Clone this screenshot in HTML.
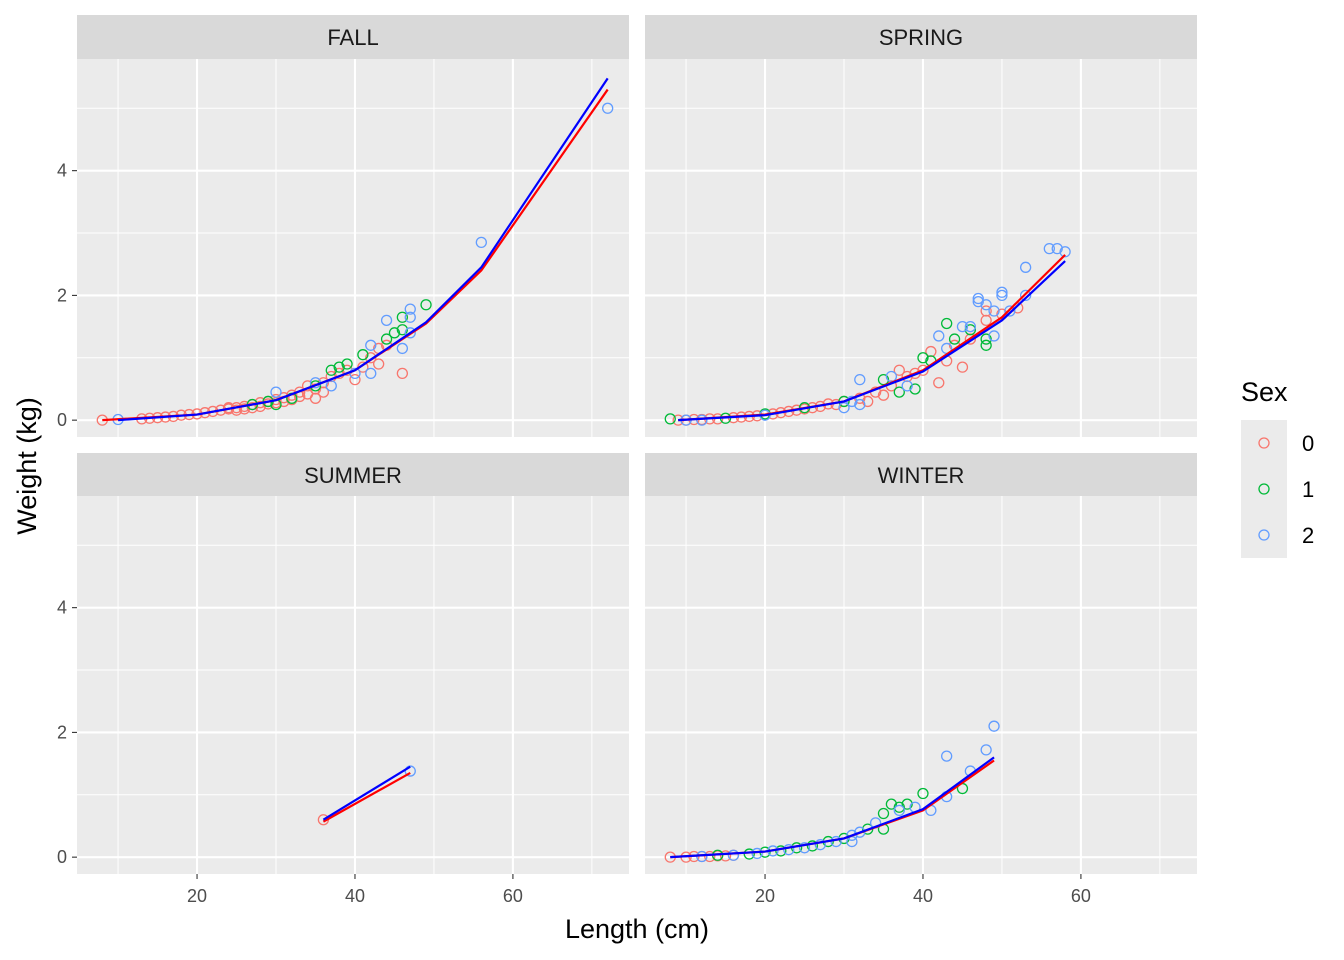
<!DOCTYPE html>
<html><head><meta charset="utf-8"><style>
body{margin:0;background:#fff;}
svg{display:block;font-family:"Liberation Sans",Arial,sans-serif;}
</style></head><body>
<svg id="chart" width="1344" height="960" xmlns="http://www.w3.org/2000/svg"></svg>
<script>
const panelNames = ["FALL","SPRING","SUMMER","WINTER"];
const xTicks = [20,40,60];
const yTicks = [0,2,4];
const sexLevels = ["0","1","2"];
const sexColors = ["#F8766D","#00BA38","#619CFF"];
const fallSex0 = [[8,0.0],[13,0.02],[14,0.03],[15,0.04],[16,0.05],[17,0.06],[18,0.08],[19,0.09],[20,0.1],[21,0.12],[22,0.14],[23,0.16],[24,0.18],[25,0.2],[26,0.22],[27,0.25],[28,0.28],[29,0.3],[30,0.33],[31,0.36],[32,0.4],[33,0.45],[34,0.55],[35,0.5],[35,0.35],[36,0.6],[37,0.7],[38,0.75],[39,0.8],[40,0.65],[41,0.85],[42,1.0],[43,0.9],[43,1.15],[46,0.75],[44,1.2],[24,0.2],[26,0.18],[28,0.22],[31,0.3],[33,0.38],[36,0.45],[25,0.16],[27,0.2],[29,0.26],[30,0.28],[32,0.33],[34,0.42]];
const fallSex1 = [[27,0.25],[30,0.25],[32,0.35],[37,0.8],[39,0.9],[41,1.05],[44,1.3],[45,1.4],[46,1.65],[49,1.85],[46,1.45],[38,0.85],[29,0.3],[35,0.55]];
const fallSex2 = [[10,0.01],[30,0.45],[35,0.6],[37,0.55],[40,0.75],[42,0.75],[42,1.2],[44,1.6],[46,1.15],[47,1.78],[47,1.65],[47,1.4],[56,2.85],[72,5.0]];
const springSex0 = [[9,0],[10,0],[12,0.01],[14,0.02],[16,0.04],[18,0.06],[20,0.09],[22,0.12],[24,0.16],[26,0.2],[28,0.26],[30,0.3],[32,0.35],[34,0.45],[36,0.55],[37,0.8],[38,0.7],[39,0.75],[40,0.8],[41,1.1],[42,0.6],[43,0.95],[44,1.2],[45,0.85],[46,1.3],[48,1.75],[48,1.6],[50,1.7],[52,1.8],[33,0.3],[27,0.22],[29,0.25],[35,0.4],[11,0.01],[13,0.02],[17,0.05],[19,0.07],[21,0.1],[23,0.14],[25,0.18]];
const springSex1 = [[8,0.02],[15,0.03],[20,0.1],[25,0.2],[30,0.3],[35,0.65],[37,0.45],[39,0.5],[40,1.0],[43,1.55],[44,1.3],[46,1.45],[48,1.2],[48,1.3],[41,0.95]];
const springSex2 = [[10,0],[12,0],[20,0.08],[30,0.2],[32,0.65],[36,0.7],[38,0.55],[42,1.35],[43,1.15],[45,1.5],[46,1.5],[47,1.9],[48,1.85],[49,1.35],[49,1.75],[50,2.05],[50,2.0],[51,1.75],[53,2.45],[53,2.0],[56,2.75],[57,2.75],[58,2.7],[47,1.95],[31,0.3],[32,0.25]];
const summerSex0 = [[36,0.6]];
const summerSex1 = [];
const summerSex2 = [[47,1.38]];
const winterSex0 = [[8,0],[10,0],[11,0.01],[12,0.01],[13,0.01],[14,0.02],[15,0.02],[16,0.03]];
const winterSex1 = [[14,0.03],[18,0.05],[20,0.08],[22,0.1],[24,0.15],[26,0.18],[28,0.25],[30,0.3],[33,0.45],[35,0.7],[35,0.45],[36,0.85],[37,0.8],[38,0.85],[40,1.02],[45,1.1]];
const winterSex2 = [[12,0.01],[16,0.03],[19,0.06],[21,0.1],[23,0.12],[25,0.15],[27,0.2],[29,0.25],[31,0.25],[31,0.35],[32,0.4],[34,0.55],[37,0.75],[39,0.8],[41,0.75],[43,1.62],[43,0.97],[46,1.38],[48,1.72],[49,2.1]];
const fallFitRed = [[8,0],[20,0.09],[30,0.32],[40,0.8],[49,1.55],[56,2.4],[72,5.3]];
const fallFitBlue = [[10,0],[20,0.09],[30,0.32],[40,0.8],[49,1.57],[56,2.45],[72,5.48]];
const springFitRed = [[9,0],[20,0.09],[30,0.3],[40,0.8],[50,1.65],[58,2.65]];
const springFitBlue = [[9,0],[20,0.08],[30,0.3],[40,0.78],[50,1.6],[58,2.55]];
const summerFitRed = [[36,0.57],[47,1.35]];
const summerFitBlue = [[36,0.6],[47,1.45]];
const winterFitRed = [[8,0],[20,0.09],[30,0.3],[40,0.75],[49,1.55]];
const winterFitBlue = [[8,0],[20,0.09],[30,0.3],[40,0.77],[49,1.6]];

const points = [[fallSex0,fallSex1,fallSex2],[springSex0,springSex1,springSex2],[summerSex0,summerSex1,summerSex2],[winterSex0,winterSex1,winterSex2]];
const fitsRed = [fallFitRed,springFitRed,summerFitRed,winterFitRed];
const fitsBlue = [fallFitBlue,springFitBlue,summerFitBlue,winterFitBlue];

const NS="http://www.w3.org/2000/svg";
const svg=document.getElementById('chart');
function mk(tag,attrs,parent){const e=document.createElementNS(NS,tag);for(const k in attrs)e.setAttribute(k,attrs[k]);(parent||svg).appendChild(e);return e;}
const panels=[{x0:77,x1:629,s0:15,y0:59,y1:437},{x0:645,x1:1197,s0:15,y0:59,y1:437},{x0:77,x1:629,s0:453,y0:496,y1:874},{x0:645,x1:1197,s0:453,y0:496,y1:874}];
const xMin=4.8,xMax=74.7,yMin=-0.27,yMax=5.79;
panels.forEach((p,i)=>{
  const sx=v=>p.x0+(v-xMin)/(xMax-xMin)*(p.x1-p.x0);
  const sy=v=>p.y1-(v-yMin)/(yMax-yMin)*(p.y1-p.y0);
  const g=mk('g',{});
  
  
  const strip=mk('rect',{x:p.x0,y:p.s0,width:p.x1-p.x0,height:p.y0-p.s0,fill:'#d9d9d9'},g);
  
  
  const st=mk('text',{x:(p.x0+p.x1)/2,y:p.s0+30,'text-anchor':'middle','font-size':'22',fill:'#1a1a1a'},g);
  st.textContent=panelNames[i];
  
  
  mk('rect',{x:p.x0,y:p.y0,width:p.x1-p.x0,height:p.y1-p.y0,fill:'#ebebeb'},g);
  [10,30,50,70].forEach(v=>mk('line',{x1:sx(v),x2:sx(v),y1:p.y0,y2:p.y1,stroke:'#fff','stroke-width':1},g));
  [1,3,5].forEach(v=>mk('line',{x1:p.x0,x2:p.x1,y1:sy(v),y2:sy(v),stroke:'#fff','stroke-width':1},g));
  xTicks.forEach(v=>mk('line',{x1:sx(v),x2:sx(v),y1:p.y0,y2:p.y1,stroke:'#fff','stroke-width':2.1},g));
  yTicks.forEach(v=>mk('line',{x1:p.x0,x2:p.x1,y1:sy(v),y2:sy(v),stroke:'#fff','stroke-width':2.1},g));
  if(i>=2){xTicks.forEach(v=>{
    mk('line',{x1:sx(v),x2:sx(v),y1:p.y1,y2:p.y1+5,stroke:'#333','stroke-width':1.1},g);
    const t=mk('text',{x:sx(v),y:p.y1+28,'text-anchor':'middle','font-size':'18',fill:'#4d4d4d'},g);
    t.textContent=v;
    
    
  });}
  if(i%2===0){yTicks.forEach(v=>{
    mk('line',{x1:p.x0-5,x2:p.x0,y1:sy(v),y2:sy(v),stroke:'#333','stroke-width':1.1},g);
    const t=mk('text',{x:p.x0-10,y:sy(v)+6,'text-anchor':'end','font-size':'18',fill:'#4d4d4d'},g);
    t.textContent=v;
    
    
  });}
  points[i].forEach((arr,k)=>arr.forEach(d=>{
    const c=mk('circle',{cx:sx(d[0]),cy:sy(d[1]),r:5,fill:'none',stroke:sexColors[k],'stroke-width':1.3},g);
    
    
  }));
  const lr=mk('polyline',{points:fitsRed[i].map(d=>sx(d[0])+','+sy(d[1])).join(' '),fill:'none',stroke:'#ff0000','stroke-width':2.2},g);
  
  
  const lb=mk('polyline',{points:fitsBlue[i].map(d=>sx(d[0])+','+sy(d[1])).join(' '),fill:'none',stroke:'#0000ff','stroke-width':2.2},g);
  
  
});
const xt=mk('text',{x:637,y:938,'text-anchor':'middle','font-size':'27',fill:'#000'});
xt.textContent='Length (cm)';


const yt=mk('text',{x:0,y:0,'text-anchor':'middle','font-size':'27',fill:'#000',transform:'translate(36,466) rotate(-90)'});
yt.textContent='Weight (kg)';


const lg=mk('g',{});


const lt=mk('text',{x:1241,y:401,'font-size':'27',fill:'#000'},lg);
lt.textContent='Sex';


mk('rect',{x:1241,y:420,width:46,height:138,fill:'#ebebeb'},lg);
sexLevels.forEach((s,k)=>{
  const cy=443+k*46;
  const c=mk('circle',{cx:1264,cy:cy,r:5,fill:'none',stroke:sexColors[k],'stroke-width':1.3},lg);
  
  
  const t=mk('text',{x:1302,y:cy+8,'font-size':'22',fill:'#000'},lg);
  t.textContent=s;
  
  
});
</script>
</body></html>
